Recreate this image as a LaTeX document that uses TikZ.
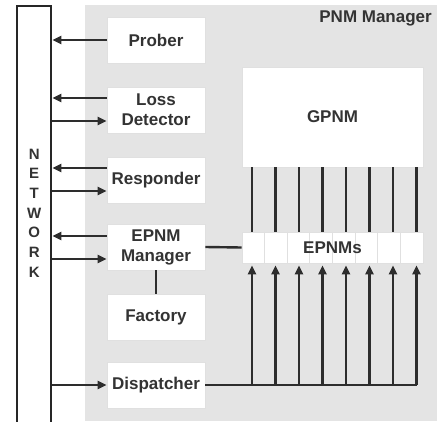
\documentclass[tikz,border=0pt]{standalone}
\usepackage{fontspec}
\setmainfont{Liberation Sans}
\usetikzlibrary{calc,arrows.meta}
\definecolor{bggray}{RGB}{228,228,228}
\definecolor{linegray}{RGB}{45,45,45}
\begin{document}
\begin{tikzpicture}[x=1pt,y=-1pt,line width=2.4pt,linegray,>={Triangle[length=9pt,width=8pt]},
	txt/.style={font=\fontsize{17}{20}\selectfont\bfseries,text=black!80,align=center},
	unit/.style={txt,draw=black!12,line width=0.6pt,fill=white,inner sep=0pt,
		minimum width=98pt,minimum height=46pt}]
	\useasboundingbox (0,0) rectangle (437,421);
	\clip (0,0) rectangle (437,421);
	\fill[bggray] (85,5) rectangle (437,421);
	% network bar on the left
	\node[draw=black!85,fill=white,inner sep=0pt,minimum width=34pt,minimum height=440pt,
		anchor=north west] (network) at (16,5) {};
	\node[txt,font=\fontsize{15}{19.7}\selectfont\bfseries] (netlabel)
		at (network.center |- 0,213) {N\\E\\T\\W\\O\\R\\K};
	\node[txt,anchor=east,inner sep=0pt] (pnmlabel) at (433,18) {PNM Manager};
	% blocks
	\node[unit] (prober) at (156,40) {Prober};
	\node[unit] (lossdet) at (156,110) {Loss\\Detector};
	\node[unit] (responder) at (156,180) {Responder};
	\node[unit] (epnmmgr) at (156,247) {EPNM\\Manager};
	\node[unit] (factory) at (156,317) {Factory};
	\node[unit] (dispatcher) at (156,385) {Dispatcher};
	\node[unit,minimum width=181pt,minimum height=100pt] (gpnm) at (332.5,117) {GPNM};
	\node[unit,minimum width=181pt,minimum height=31pt] (epnms) at (332.5,247.5) {};
	\foreach \k in {1,...,7}
		\draw[black!12,line width=0.6pt] ($(epnms.north west)+(22.625*\k,0)$)
			-- ($(epnms.south west)+(22.625*\k,0)$);
	\node[txt] (epnmslabel) at (epnms.center) {EPNMs};
	% to and from the network
	\draw[->] (prober.west) -- (prober.west -| network.east);
	\draw[->] ([yshift=12pt]lossdet.west) -- ([yshift=12pt]lossdet.west -| network.east);
	\draw[->] ([yshift=-11pt]lossdet.west -| network.east) -- ([yshift=-11pt]lossdet.west);
	\draw[->] ([yshift=12pt]responder.west) -- ([yshift=12pt]responder.west -| network.east);
	\draw[->] ([yshift=-11pt]responder.west -| network.east) -- ([yshift=-11pt]responder.west);
	\draw[->] ([yshift=11pt]epnmmgr.west) -- ([yshift=11pt]epnmmgr.west -| network.east);
	\draw[->] ([yshift=-12pt]epnmmgr.west -| network.east) -- ([yshift=-12pt]epnmmgr.west);
	\draw[->] (dispatcher.west -| network.east) -- (dispatcher.west);
	\draw (epnmmgr.south) -- (factory.north);
	\draw (epnmmgr.east) -- (epnms.west);
	% GPNM, EPNMs and the dispatcher bus
	\draw (dispatcher.east) -- (dispatcher.east -| 416.5,0);
	\foreach \i in {0,...,7}{
		\pgfmathsetmacro\x{252+23.5*\i}
		\draw (gpnm.south -| \x,0) -- (epnms.north -| \x,0);
		\draw[->,shorten >=2pt] (dispatcher.east -| \x,0) -- (epnms.south -| \x,0);
	}
\end{tikzpicture}
\end{document}
